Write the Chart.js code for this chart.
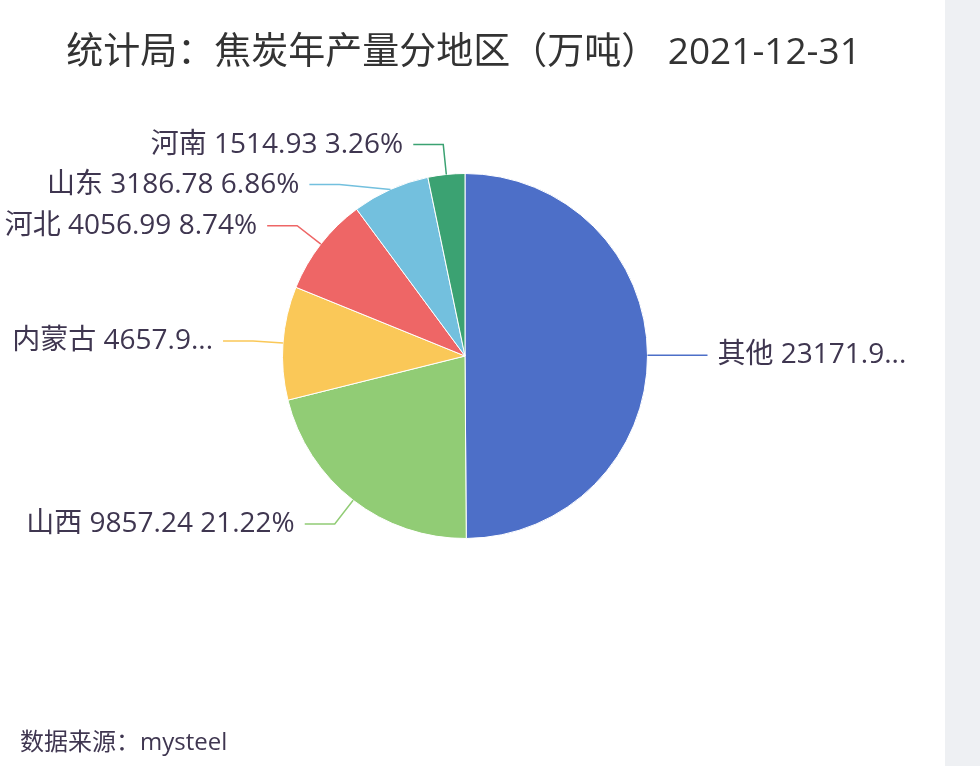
<!DOCTYPE html>
<html>
<head>
<meta charset="utf-8">
<script src="https://cdn.jsdelivr.net/npm/chart.js@4"></script>
<style>
  body { margin: 0; background: #eef0f3; }
  #wrap { position: relative; width: 945px; height: 766px; background: #fff; }
  #title { position: absolute; left: 0; width: 927px; top: 25px; text-align: center;
    font: 37px "Open Sans", "Noto Sans CJK SC", sans-serif; color: #333; line-height: 50px; }
  #source { position: absolute; left: 20px; top: 725px;
    font: 24px "Open Sans", "Noto Sans CJK SC", sans-serif; color: #3f3650; line-height: 32px; }
  canvas { position: absolute; left: 0; top: 0; }
</style>
</head>
<body>
<div id="wrap">
  <canvas id="pie" width="945" height="766"></canvas>
  <div id="title">统计局：焦炭年产量分地区（万吨） 2021-12-31</div>
  <div id="source">数据来源：mysteel</div>
</div>
<script>
const regions = ['其他', '山西', '内蒙古', '河北', '山东', '河南'];
const output = [23171.90, 9857.24, 4657.90, 4056.99, 3186.78, 1514.93];
const colors = ['#4d6fc8', '#91cc75', '#fac858', '#ee6666', '#73c0de', '#3ba272'];

// percentages that add up to 100 (largest remainder, 2 decimals)
function percents(vals) {
    let total = vals.reduce((a, b) => a + b, 0);
    let raw = vals.map(v => v / total * 10000);
    let floors = raw.map(Math.floor);
    let left = 10000 - floors.reduce((a, b) => a + b, 0);
    let order = raw.map((r, i) => [r - floors[i], i]).sort((a, b) => b[0] - a[0]);
    for (let k = 0; k < left; k++) floors[order[k][1]]++;
    return floors.map(f => (f / 100).toFixed(2));
}
const pcts = percents(output);

const LEN1 = 30, LEN2 = 30, GAP = 10, LABEL_H = 40;
const LEFT_LIMIT = 2, RIGHT_LIMIT = 914;
const labelFont = '28px "Open Sans", "Noto Sans CJK SC", sans-serif';

function fitText(ctx, text, maxW) {
    if (ctx.measureText(text).width <= maxW) return text;
    let s = text;
    while (s.length > 1 && ctx.measureText(s + '...').width > maxW) s = s.slice(0, -1);
    return s + '...';
}

const pieLabels = {
    id: 'pieLabels',
    afterDatasetsDraw(chart) {
        const ctx = chart.ctx;
        const meta = chart.getDatasetMeta(0);
        let items = meta.data.map((arc, i) => {
            const p = arc.getProps(['x', 'y', 'startAngle', 'endAngle', 'outerRadius']);
            const mid = (p.startAngle + p.endAngle) / 2;
            const c = Math.cos(mid), s = Math.sin(mid);
            const rA = p.outerRadius + LEN1;
            return { i, cx: p.x, cy: p.y, rA, dir: c < 0 ? -1 : 1,
                x0: p.x + c * p.outerRadius, y0: p.y + s * p.outerRadius,
                x1: p.x + c * rA, y: p.y + s * rA };
        });
        [-1, 1].forEach(dir => {
            let side = items.filter(it => it.dir === dir).sort((a, b) => a.y - b.y);
            for (let j = 1; j < side.length; j++) {
                if (side[j].y < side[j - 1].y + LABEL_H) side[j].y = side[j - 1].y + LABEL_H;
            }
            // put x back on an ellipse, per half
            [side.filter(it => it.y <= it.cy), side.filter(it => it.y > it.cy)].forEach(semi => {
                if (!semi.length) return;
                let top = semi.reduce((a, b) => Math.abs(b.y - b.cy) > Math.abs(a.y - a.cy) ? b : a);
                let dyM = Math.abs(top.y - top.cy), dxM = top.x1 - top.cx;
                let rB = Math.abs(dxM) < top.rA ? Math.sqrt(dyM * dyM / (1 - dxM * dxM / top.rA / top.rA)) : top.rA;
                semi.forEach(it => {
                    let dy = Math.abs(it.y - it.cy);
                    it.x1 = it.cx + dir * Math.sqrt(Math.max(0, 1 - dy * dy / rB / rB)) * it.rA;
                });
            });
        });
        ctx.save();
        ctx.font = labelFont;
        ctx.textBaseline = 'middle';
        items.forEach(it => {
            const x2 = it.x1 + it.dir * LEN2;
            ctx.strokeStyle = colors[it.i];
            ctx.lineWidth = 1.5;
            ctx.beginPath();
            ctx.moveTo(it.x0, it.y0);
            ctx.lineTo(it.x1, it.y);
            ctx.lineTo(x2, it.y);
            ctx.stroke();
            const tx = x2 + it.dir * GAP;
            const maxW = it.dir < 0 ? tx - LEFT_LIMIT : RIGHT_LIMIT - tx;
            const text = fitText(ctx, regions[it.i] + ' ' + output[it.i].toFixed(2) + ' ' + pcts[it.i] + '%', maxW);
            ctx.fillStyle = '#3f3650';
            ctx.textAlign = it.dir < 0 ? 'right' : 'left';
            ctx.fillText(text, tx, it.y);
        });
        ctx.restore();
    }
};

new Chart(document.getElementById('pie'), {
    type: 'pie',
    data: {
        labels: regions,
        datasets: [{
            data: output,
            backgroundColor: colors,
            borderColor: '#fff',
            borderWidth: 1
        }]
    },
    options: {
        responsive: false,
        animation: false,
        devicePixelRatio: 1,
        layout: { padding: { left: 282, right: 297, top: 173, bottom: 227 } },
        plugins: {
            legend: { display: false },
            tooltip: { enabled: false }
        }
    },
    plugins: [pieLabels]
});
</script>
</body>
</html>
